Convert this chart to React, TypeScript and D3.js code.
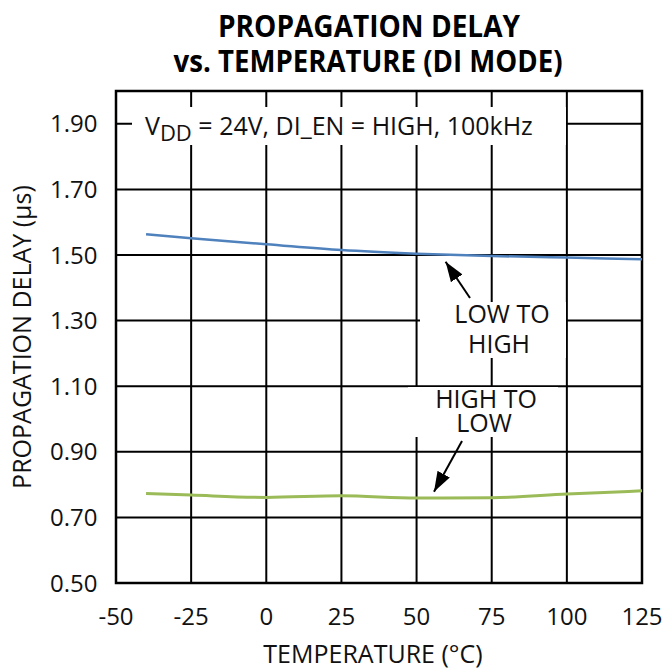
import React from "react";
import * as d3 from "d3";

const temps = [-40, -25, 0, 25, 50, 75, 100, 125];
const lowToHigh = [1.563, 1.551, 1.533, 1.515, 1.504, 1.497, 1.492, 1.487];
const highToLow = [0.773, 0.768, 0.761, 0.766, 0.759, 0.76, 0.771, 0.781];
const xTicks = [-50, -25, 0, 25, 50, 75, 100, 125];
const yTicks = [0.5, 0.7, 0.9, 1.1, 1.3, 1.5, 1.7, 1.9];
const yGrid = [0.7, 0.9, 1.1, 1.3, 1.5, 1.7, 1.9];

const L = 116, R = 642, T = 91, B = 583;
const FONT = "'Open Sans', 'Noto Sans', sans-serif";

export default function App() {
  const x = d3.scaleLinear().domain([-50, 125]).range([L, R]);
  const y = d3.scaleLinear().domain([0.5, 2.0]).range([B, T]);
  const line = d3
    .line<number>()
    .x((_, i) => x(temps[i]))
    .y((d) => y(d))
    .curve(d3.curveMonotoneX);

  return (
    <div style={{ position: "absolute", left: 0, top: 0 }}>
      <svg width={663} height={669} style={{ display: "block", background: "#fff" }}>
        <defs>
          <marker id="ah" markerUnits="userSpaceOnUse" markerWidth={22} markerHeight={16}
            refX={20} refY={7} orient="auto" viewBox="0 0 22 14">
            <path d="M0,0 L20,7 L0,14 Z" fill="#000" />
          </marker>
        </defs>
        {/* title */}
        <text x={369} y={37} textAnchor="middle" fontFamily={FONT} fontWeight={700} fontSize={30}
          fill="#000" textLength={302} lengthAdjust="spacingAndGlyphs">PROPAGATION DELAY</text>
        <text x={368} y={72} textAnchor="middle" fontFamily={FONT} fontWeight={700} fontSize={30}
          fill="#000" textLength={389} lengthAdjust="spacingAndGlyphs">vs. TEMPERATURE (DI MODE)</text>

        {/* grid */}
        {xTicks.slice(1, -1).map((t) => (
          <line key={"vx" + t} x1={x(t)} x2={x(t)} y1={T} y2={B} stroke="#000" strokeWidth={2} />
        ))}
        {yGrid.map((t) => (
          <line key={"hy" + t} x1={L} x2={R} y1={y(t)} y2={y(t)} stroke="#000" strokeWidth={2} />
        ))}

        {/* white annotation boxes */}
        <rect x={132} y={107} width={434} height={38} fill="#fff" />
        <rect x={420} y={302} width={146} height={56} fill="#fff" />
        <rect x={408} y={387} width={150} height={50} fill="#fff" />

        {/* border */}
        <rect x={L} y={T} width={R - L} height={B - T} fill="none" stroke="#000" strokeWidth={2.5} />

        {/* series */}
        <path d={line(lowToHigh) || ""} fill="none" stroke="#4f81bd" strokeWidth={2.5} />
        <path d={line(highToLow) || ""} fill="none" stroke="#9bbb59" strokeWidth={3} />

        {/* annotations */}
        <text x={145} y={135} fontFamily={FONT} fontSize={25} fill="#111">
          V<tspan fontSize={22} dy={6}>DD</tspan>
          <tspan dy={-6}> = 24V, DI_EN = HIGH, 100kHz</tspan>
        </text>
        <text x={502} y={323} textAnchor="middle" fontFamily={FONT} fontSize={25} fill="#111">LOW TO</text>
        <text x={499} y={353} textAnchor="middle" fontFamily={FONT} fontSize={25} fill="#111">HIGH</text>
        <text x={486} y={408} textAnchor="middle" fontFamily={FONT} fontSize={25} fill="#111">HIGH TO</text>
        <text x={484} y={432} textAnchor="middle" fontFamily={FONT} fontSize={25} fill="#111">LOW</text>
        <line x1={470} y1={298} x2={445.6} y2={261.7} stroke="#000" strokeWidth={2} markerEnd="url(#ah)" />
        <line x1={462} y1={441} x2={434} y2={491.7} stroke="#000" strokeWidth={2} markerEnd="url(#ah)" />

        {/* ticks */}
        {yTicks.map((t) => (
          <text key={"yt" + t} x={50} y={y(t) + 8.5} fontFamily={FONT} fontSize={24} fill="#111">
            {t.toFixed(2)}
          </text>
        ))}
        {xTicks.map((t) => (
          <text key={"xt" + t} x={x(t)} y={625} textAnchor="middle" fontFamily={FONT} fontSize={24} fill="#111">
            {t}
          </text>
        ))}
        <text x={373} y={663} textAnchor="middle" fontFamily={FONT} fontSize={25} fill="#111">TEMPERATURE (°C)</text>
        <text transform={`translate(31,${(T + B) / 2}) rotate(-90)`} textAnchor="middle" fontFamily={FONT}
          fontSize={25} fill="#111">PROPAGATION DELAY (µs)</text>
      </svg>
    </div>
  );
}
